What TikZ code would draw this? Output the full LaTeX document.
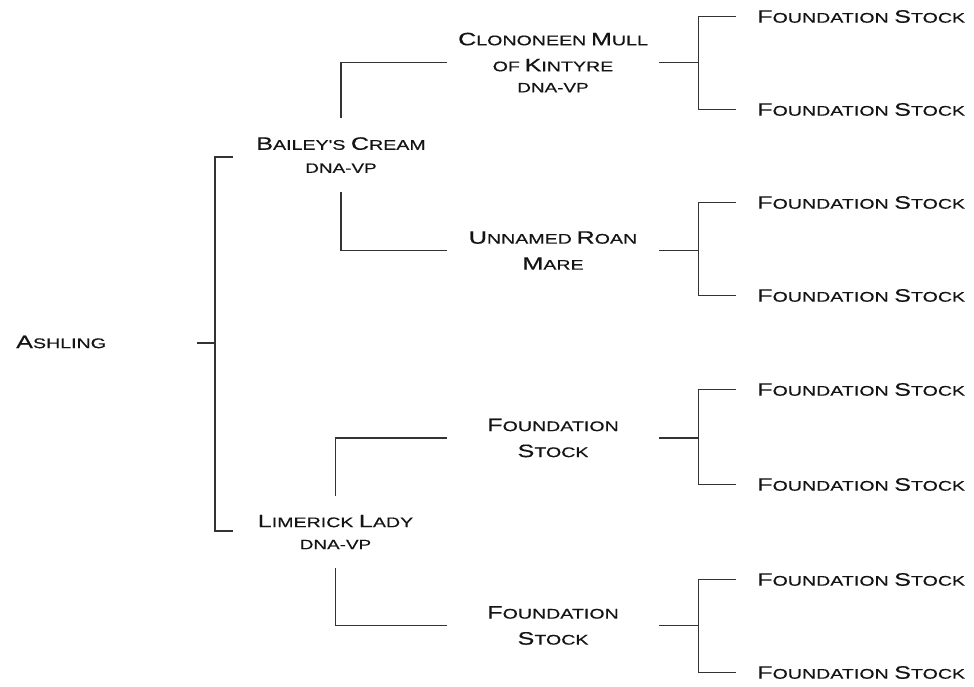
\documentclass[tikz,border=0pt]{standalone}
\usepackage{fontspec}
\newfontfamily\cpf[FakeStretch=1.4,FakeBold=0.4]{Liberation Sans}
\newcommand\bg[1]{{\fontsize{18}{26}\selectfont #1}}
\newcommand\dna{{\fontsize{13.5}{26}\selectfont DNA-VP}}
\begin{document}
\begin{tikzpicture}[x=1pt,y=-1pt,
  txt/.style={font=\cpf\fontsize{14}{26}\selectfont, text=black!92},
  ln/.style={draw=black!80, line width=1.3pt},
  parent/.style={txt, align=center, inner xsep=2pt, inner ysep=19pt},
  mid/.style={txt, align=center, text width=196pt, inner xsep=8pt, inner ysep=2pt},
  leaf/.style={txt, anchor=west, inner xsep=21pt, inner ysep=0pt}]
\useasboundingbox (0,0) rectangle (974,686);

% generation 0
\node[txt, anchor=west, inner sep=0pt] (ash) at (16,342) {\bg{A}SHLING};
% generation 1
\node[parent] (bailey) at (341,155) {\bg{B}AILEY'S \bg{C}REAM\\[-3pt]\dna};
\node[parent] (limerick) at (335.5,532) {\bg{L}IMERICK \bg{L}ADY\\[-4pt]\dna};
% generation 2
\node[mid] (clon) at (553,62.5) {\bg{C}LONONEEN \bg{M}ULL\\OF \bg{K}INTYRE\\[-5pt]\dna};
\node[mid] (roan) at (553,250.5) {\bg{U}NNAMED \bg{R}OAN\\\bg{M}ARE};
\node[mid] (fsa) at (553,438) {\bg{F}OUNDATION\\\bg{S}TOCK};
\node[mid] (fsb) at (553,625.5) {\bg{F}OUNDATION\\\bg{S}TOCK};
% generation 3
\foreach \n/\y in {f1/16.5,f2/109.5,f3/202.5,f4/295.5,f5/389.5,f6/484.5,f7/579.5,f8/672.5}
  \node[leaf] (\n) at (736,\y) {\bg{F}OUNDATION \bg{S}TOCK};

% root bracket
\coordinate (rs) at (197,343);
\coordinate (r) at (215,343);
\coordinate (bs) at (233,157);
\coordinate (ls) at (233,531);
\draw[ln] (rs) -- (r);
\draw[ln] (bs) -| (r) |- (ls);

% generation 1 to 2
\draw[ln] (bailey.north) |- (clon.west);
\draw[ln] (bailey.south) |- (roan.west);
\draw[ln] (limerick.north) |- (fsa.west);
\draw[ln] (limerick.south) |- (fsb.west);

% generation 2 to 3
\draw[ln] (clon.east) -- ++(39,0) coordinate (k1);
\draw[ln] (f1.west) -| (k1) |- (f2.west);
\draw[ln] (roan.east) -- ++(39,0) coordinate (k2);
\draw[ln] (f3.west) -| (k2) |- (f4.west);
\draw[ln] (fsa.east) -- ++(39,0) coordinate (k3);
\draw[ln] (f5.west) -| (k3) |- (f6.west);
\draw[ln] (fsb.east) -- ++(39,0) coordinate (k4);
\draw[ln] (f7.west) -| (k4) |- (f8.west);
\end{tikzpicture}
\end{document}
